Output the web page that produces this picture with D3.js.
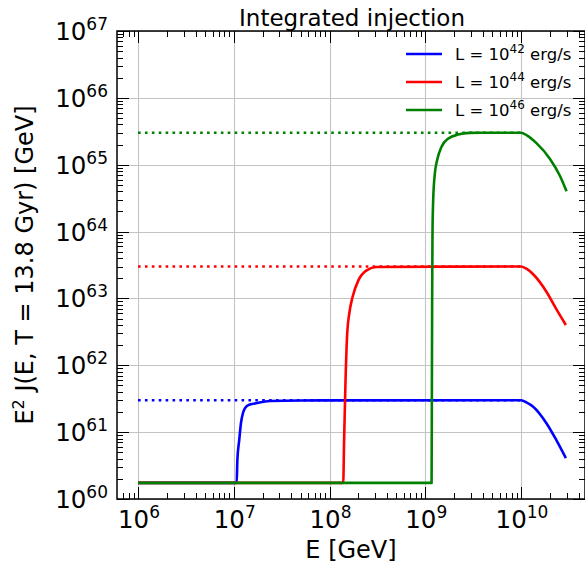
<!doctype html>
<html lang="en">
<head>
  <meta charset="utf-8" />
  <title>Integrated injection</title>
  <style>
    html, body {
      margin: 0;
      padding: 0;
      background: white;
    }
    svg {
      display: block;
      font-family: "DejaVu Sans", sans-serif;
    }
  </style>
</head>
<body>

<script src="https://cdn.jsdelivr.net/npm/d3@7"></script>

<script>

// Data (E in GeV, E^2 J in GeV)
var blueE = [1e6, 1.072e7, 1.09e7, 1.14e7, 1.19e7, 1.25e7, 1.31e7, 1.45e7, 1.66e7, 2.4e7, 4.9e7, 1e10, 1.15e10, 1.34e10, 1.85e10, 2.34e10, 2.94e10];
var blueJ = [1.74e60, 1.74e60, 3.8e60, 7.6e60, 1.38e61, 1.95e61, 2.29e61, 2.57e61, 2.69e61, 2.92e61, 2.98e61, 3.0e61, 2.76e61, 2.4e61, 1.35e61, 7.6e60, 4.1e60];

var redE = [1e6, 1.39e8, 1.42e8, 1.47e8, 1.53e8, 1.61e8, 1.74e8, 2.0e8, 2.44e8, 3.09e8, 1e10, 1.15e10, 1.34e10, 1.85e10, 2.34e10, 2.94e10];
var redJ = [1.74e60, 1.74e60, 7.6e60, 6.0e61, 3.0e62, 6.0e62, 1.05e63, 1.86e63, 2.63e63, 2.95e63, 3.0e63, 2.76e63, 2.3e63, 1.25e63, 6.9e62, 4.0e62];

var greenE = [1e6, 1.164e9, 1.172e9, 1.18e9, 1.19e9, 1.21e9, 1.26e9, 1.33e9, 1.48e9, 1.73e9, 2.2e9, 2.92e9, 3.72e9, 1e10, 1.15e10, 1.45e10, 2.0e10, 2.54e10, 2.99e10];
var greenJ = [1.74e60, 1.74e60, 3.2e61, 9.3e62, 9.3e63, 2.95e64, 7.4e64, 1.17e65, 1.86e65, 2.45e65, 2.82e65, 2.99e65, 3.0e65, 3.0e65, 2.75e65, 2.1e65, 1.23e65, 6.9e64, 4.0e64];

// dotted reference levels, drawn from 1e6 to 1e10
var plateauJ = [3e61, 3e63, 3e65];
var plateauE = [1e6, 1e10];

var seriesColors = ['#0000ff', '#ff0000', '#008000'];
var legendExp = ['42', '44', '46'];

var xTickExp = [6, 7, 8, 9, 10];
var yTickExp = [60, 61, 62, 63, 64, 65, 66, 67];

// SVG Container
var width = 585, height = 563;
var plotLeft = 117, plotRight = 585, plotTop = 31, plotBottom = 499;

var svg = d3.select('body').append('svg')
  .attr('width', width)
  .attr('height', height);

var x = d3.scaleLog().domain([6.03e5, 4.66e10]).range([plotLeft, plotRight]);
var y = d3.scaleLog().domain([1e60, 1e67]).range([plotBottom, plotTop]);

svg.append('clipPath').attr('id', 'plot')
  .append('rect')
  .attr('x', plotLeft).attr('y', plotTop)
  .attr('width', plotRight - plotLeft).attr('height', plotBottom - plotTop);

// tick values
var xMajor = xTickExp.map(function (e) { return Math.pow(10, e); });
var yMajor = yTickExp.map(function (e) { return Math.pow(10, e); });
var xMinor = [], yMinor = [];
for (var e = 5; e <= 10; e++) {
  for (var k = 2; k <= 9; k++) {
    var v = k * Math.pow(10, e);
    if (v > 6.03e5 && v < 4.66e10) xMinor.push(v);
  }
}
for (var e2 = 60; e2 < 67; e2++) {
  for (var k2 = 2; k2 <= 9; k2++) yMinor.push(k2 * Math.pow(10, e2));
}

// Grid
var grid = svg.append('g').attr('stroke', '#c4c4c4').attr('stroke-width', 1.1);
grid.selectAll('.gx').data(xMajor).enter().append('line')
  .attr('x1', function (d) { return Math.round(x(d)) + 0.5; })
  .attr('x2', function (d) { return Math.round(x(d)) + 0.5; })
  .attr('y1', plotTop).attr('y2', plotBottom);
grid.selectAll('.gy').data(yMajor).enter().append('line')
  .attr('y1', function (d) { return Math.round(y(d)) + 0.5; })
  .attr('y2', function (d) { return Math.round(y(d)) + 0.5; })
  .attr('x1', plotLeft).attr('x2', plotRight);

// Curves
var line = d3.line()
  .x(function (d) { return x(d[0]); })
  .y(function (d) { return y(d[1]); });

var plot = svg.append('g').attr('clip-path', 'url(#plot)');

plateauJ.forEach(function (p, i) {
  plot.append('path')
    .attr('d', line(plateauE.map(function (e) { return [e, p]; })))
    .attr('fill', 'none')
    .attr('stroke', seriesColors[i])
    .attr('stroke-width', 2.6)
    .attr('stroke-dasharray', '2.6,4.3');
});

var smooth = d3.line()
  .x(function (d) { return x(d[0]); })
  .y(function (d) { return y(d[1]); })
  .curve(d3.curveMonotoneX);

[[blueE, blueJ], [redE, redJ], [greenE, greenJ]].forEach(function (s, i) {
  var pts = s[0].map(function (e, j) { return [e, s[1][j]]; });
  plot.append('path')
    .attr('d', smooth(pts))
    .attr('fill', 'none')
    .attr('stroke', seriesColors[i])
    .attr('stroke-width', 2.6)
    .attr('stroke-linejoin', 'round');
});

// Ticks (inward on all four sides)
var ticks = svg.append('g').attr('stroke', 'black').attr('stroke-width', 1);
function xTicks(data, len) {
  data.forEach(function (d) {
    var px = Math.round(x(d)) + 0.5;
    ticks.append('line').attr('x1', px).attr('x2', px).attr('y1', plotBottom).attr('y2', plotBottom - len);
    ticks.append('line').attr('x1', px).attr('x2', px).attr('y1', plotTop).attr('y2', plotTop + len);
  });
}
function yTicks(data, len) {
  data.forEach(function (d) {
    var py = Math.round(y(d)) + 0.5;
    ticks.append('line').attr('y1', py).attr('y2', py).attr('x1', plotLeft).attr('x2', plotLeft + len);
    ticks.append('line').attr('y1', py).attr('y2', py).attr('x1', plotRight).attr('x2', plotRight - len);
  });
}
xTicks(xMajor, 12); xTicks(xMinor, 6);
yTicks(yMajor, 12); yTicks(yMinor, 6);

// Frame
svg.append('rect')
  .attr('x', plotLeft).attr('y', plotTop)
  .attr('width', plotRight - plotLeft).attr('height', plotBottom - plotTop)
  .attr('fill', 'none').attr('stroke', 'black').attr('stroke-width', 1.5);

// Tick labels
xTickExp.forEach(function (e) {
  var t = svg.append('text')
    .attr('x', x(Math.pow(10, e)) + 1)
    .attr('y', 528)
    .attr('text-anchor', 'middle')
    .attr('font-size', 24.5);
  t.append('tspan').text('10');
  t.append('tspan').attr('font-size', 17).attr('dy', -10).text(e);
});
yTickExp.forEach(function (e) {
  var t = svg.append('text')
    .attr('x', 108)
    .attr('y', y(Math.pow(10, e)) + 9)
    .attr('text-anchor', 'end')
    .attr('font-size', 24.5);
  t.append('tspan').text('10');
  t.append('tspan').attr('font-size', 17).attr('dy', -10).text(e);
});

// Axis titles
svg.append('text')
  .attr('x', (plotLeft + plotRight) / 2)
  .attr('y', 558)
  .attr('text-anchor', 'middle')
  .attr('font-size', 24)
  .text('E [GeV]');

var yl = svg.append('text')
  .attr('transform', 'translate(33,' + ((plotTop + plotBottom) / 2) + ') rotate(-90)')
  .attr('text-anchor', 'middle')
  .attr('font-size', 24);
yl.append('tspan').text('E');
yl.append('tspan').attr('font-size', 16).attr('dy', -9).text('2');
yl.append('tspan').attr('dy', 9).text(' J(E, T = 13.8 Gyr) [GeV]');

svg.append('text')
  .attr('x', 352)
  .attr('y', 26)
  .attr('text-anchor', 'middle')
  .attr('font-size', 23)
  .text('Integrated injection');

// Legend (no frame)
var legend = svg.append('g');
legendExp.forEach(function (e, i) {
  var ly = 54 + i * 28;
  legend.append('line')
    .attr('x1', 406).attr('x2', 442)
    .attr('y1', ly).attr('y2', ly)
    .attr('stroke', seriesColors[i]).attr('stroke-width', 2.6);
  var t = legend.append('text')
    .attr('x', 455).attr('y', ly + 6)
    .attr('font-size', 16.5);
  t.append('tspan').text('L = 10');
  t.append('tspan').attr('font-size', 12).attr('dy', -7).text(e);
  t.append('tspan').attr('dy', 7).text(' erg/s');
});

</script>

</body>
</html>
